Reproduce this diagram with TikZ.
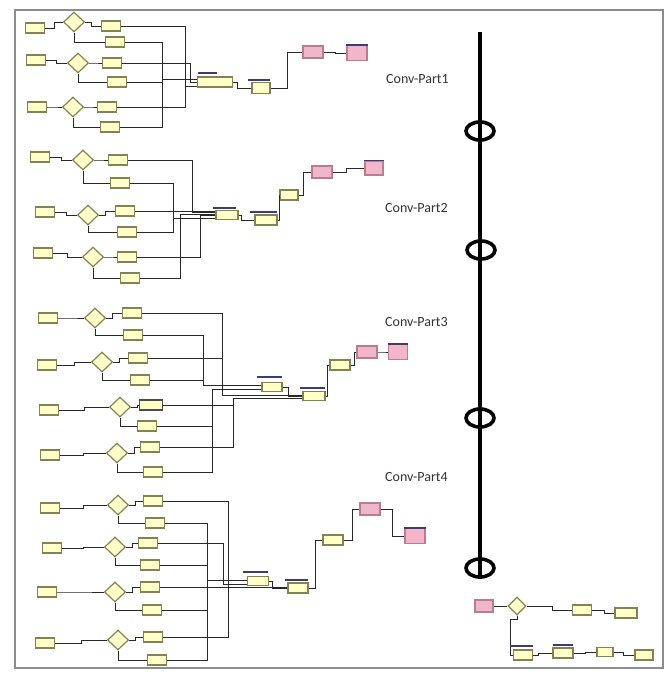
\documentclass[tikz,border=0pt]{standalone}
\usepackage{fontspec}
\setmainfont{Carlito}
\usetikzlibrary{shapes.geometric,calc}
\definecolor{yfill}{RGB}{255,255,200}
\definecolor{ybord}{RGB}{130,130,85}
\definecolor{pfill}{RGB}{242,182,202}
\definecolor{pbord}{RGB}{185,125,145}
\definecolor{wcol}{RGB}{40,40,40}
\definecolor{tcol}{RGB}{60,60,115}
\definecolor{fcol}{RGB}{140,140,140}
\tikzset{
 yb/.style={rectangle, draw=ybord, fill=yfill, line width=1.3pt, minimum width=19pt, minimum height=10pt, inner sep=0pt},
 pb/.style={rectangle, draw=pbord, fill=pfill, line width=1.2pt, minimum width=20pt, minimum height=12pt, inner sep=0pt},
 dm/.style={diamond, draw=ybord, fill=yfill, line width=1.2pt, minimum width=21pt, minimum height=20pt, inner sep=0pt},
 wire/.style={draw=wcol, line width=1pt},
 tbar/.style={draw=tcol, line width=1.4pt},
 lbl/.style={font=\fontsize{14}{16}\selectfont, text=black!80, inner sep=0pt, anchor=west},
 ring/.style={ellipse, draw=black, line width=3.6pt, minimum width=28pt, minimum height=18pt, inner sep=0pt},
}
\begin{document}
\begin{tikzpicture}[x=1pt,y=-1pt]
\useasboundingbox (0,0) rectangle (669,675);
\fill[white] (0,0) rectangle (669,675);
\draw[fcol, line width=1.4pt] (15,10) rectangle (663,668);

% ---------------- Section 1
\node[yb] (i11) at (35,28) {};
\node[dm] (d11) at (74,22) {};
\node[yb] (o11a) at (111,26) {};
\node[yb] (o11b) at (115,42) {};
\node[yb] (i12) at (36,60) {};
\node[dm] (d12) at (78,63) {};
\node[yb] (o12a) at (112,63) {};
\node[yb] (o12b) at (117,82) {};
\node[yb] (i13) at (37,107) {};
\node[dm] (d13) at (73,107) {};
\node[yb] (o13a) at (107,107) {};
\node[yb] (o13b) at (110,127) {};
\node[yb, minimum width=35pt] (m1) at (215,82) {};
\node[yb, minimum width=18pt, minimum height=11pt] (b12) at (261,88) {};
\node[pb] (p11) at (313,52) {};
\node[pb, minimum height=15pt] (p12) at (357,53) {};
\node[lbl] (c1) at (386,79) {Conv-Part1};

% ---------------- Section 2
\node[yb] (i21) at (40,157) {};
\node[dm] (d21) at (83,160) {};
\node[yb] (o21a) at (118,160) {};
\node[yb] (o21b) at (120,183) {};
\node[yb] (i22) at (45,212) {};
\node[dm] (d22) at (88,215) {};
\node[yb] (o22a) at (125,211) {};
\node[yb] (o22b) at (127,232) {};
\node[yb] (i23) at (43,253) {};
\node[dm] (d23) at (93,257) {};
\node[yb] (o23a) at (127,257) {};
\node[yb] (o23b) at (130,278) {};
\node[yb, minimum width=22pt, minimum height=9pt] (m2) at (227,215) {};
\node[yb, minimum width=22pt] (b22) at (266,220) {};
\node[yb, minimum width=18pt] (b23) at (289,195) {};
\node[pb] (p21) at (322,172) {};
\node[pb, minimum width=18pt, minimum height=14pt] (p22) at (374,168) {};
\node[lbl] (c2) at (385,208) {Conv-Part2};

% ---------------- Section 3
\node[yb] (i31) at (48,318) {};
\node[dm] (d31) at (95,318) {};
\node[yb] (o31a) at (132,313) {};
\node[yb] (o31b) at (133,335) {};
\node[yb] (i32) at (47,365) {};
\node[dm] (d32) at (102,362) {};
\node[yb] (o32a) at (138,358) {};
\node[yb] (o32b) at (140,380) {};
\node[yb] (i33) at (49,410) {};
\node[dm] (d33) at (120,407) {};
\node[yb, minimum width=23pt, draw=black!70] (o33a) at (151,405) {};
\node[yb] (o33b) at (147,426) {};
\node[yb] (i34) at (50,455) {};
\node[dm] (d34) at (117,453) {};
\node[yb] (o34a) at (150,447) {};
\node[yb] (o34b) at (153,472) {};
\node[yb, minimum width=20pt, minimum height=9pt] (m3) at (272,387) {};
\node[yb, minimum width=22pt, minimum height=9pt] (b32) at (314,396) {};
\node[yb, minimum width=20pt] (b33) at (340,365) {};
\node[pb] (p31) at (367,352) {};
\node[pb, minimum width=19pt, minimum height=15pt] (p32) at (398,352) {};
\node[lbl] (c3) at (385,322) {Conv-Part3};

% ---------------- Section 4
\node[yb] (i41) at (50,508) {};
\node[dm] (d41) at (118,505) {};
\node[yb] (o41a) at (153,501) {};
\node[yb] (o41b) at (155,523) {};
\node[yb] (i42) at (52,548) {};
\node[dm] (d42) at (115,547) {};
\node[yb] (o42a) at (148,543) {};
\node[yb] (o42b) at (150,565) {};
\node[yb] (i43) at (47,592) {};
\node[dm] (d43) at (115,592) {};
\node[yb] (o43a) at (150,587) {};
\node[yb] (o43b) at (152,610) {};
\node[yb] (i44) at (45,643) {};
\node[dm] (d44) at (118,640) {};
\node[yb] (o44a) at (153,637) {};
\node[yb] (o44b) at (157,660) {};
\node[yb, minimum width=21pt, minimum height=9pt] (m4) at (258,581) {};
\node[yb, minimum width=20pt] (b42) at (298,588) {};
\node[yb, minimum width=20pt] (b43) at (333,540) {};
\node[pb] (p41) at (370,509) {};
\node[pb, minimum height=15pt] (p42) at (415,536) {};
\node[lbl] (c4) at (385,477) {Conv-Part4};

% ---------------- Bottom-right cluster
\node[pb, minimum width=18pt] (p5) at (484,606) {};
\node[dm, minimum width=18pt, minimum height=18pt] (d5) at (517,606) {};
\node[yb] (o5a) at (582,610) {};
\node[yb, minimum width=22pt] (o5b) at (626,613) {};
\node[yb] (o5c) at (523,655) {};
\node[yb, minimum width=20pt] (o5d) at (563,653) {};
\node[yb, minimum width=16pt, minimum height=9pt] (o5e) at (605,652) {};
\node[yb, minimum width=18pt] (o5f) at (644,655) {};

% ---------------- generic row wiring
\foreach \r in {11,12,13,21,22,23,31,32,33,34,41,42,43,44} {
  \draw[wire] (i\r.east) -| ($(i\r.east)!.5!(d\r.west)$) |- (d\r.west);
  \draw[wire] (d\r.east) -- ++(6,0) |- (o\r a.west);
  \draw[wire] (d\r.south) |- (o\r b.west);
}

% ---------------- Section 1 buses
\draw[wire] (o11a.east) -- (185,26) -- (185,107) -- (o13a.east);
\draw[wire] (o11b.east) -- (162,42) -- (162,127) -- (o13b.east);
\draw[wire] (o12a.east) -- (190,63) -- (190,82) -- (m1.west);
\draw[wire] (o12b.east) -- (162,82);
\draw[wire] (162,79) -- (m1.west |- 0,79);
\draw[wire] (185,86) -- (m1.west |- 0,86);
\draw[wire] (m1.east) -- ++(4,0) |- (b12.west);
\draw[wire] (b12.east) -- ++(17,0) |- (p11.west);
\draw[wire] (p11.east) -- ++(12,0) |- (p12.west);
\draw[tbar] (198,73) -- (217,73);
\draw[tbar] (248,80) -- (270,80);
\draw[tbar] (p12.north west) -- (p12.north east);

% ---------------- Section 2 buses
\draw[wire] (o21a.east) -- (192,160) -- (192,212) -- (m2.west |- 0,212);
\draw[wire] (o21b.east) -- (173,183) -- (173,232) -- (o22b.east);
\draw[wire] (173,218) -- (m2.west |- 0,218);
\draw[wire] (o22a.east) -- (m2.west |- o22a.east);
\draw[wire] (o23a.east) -- (200,257) -- (200,215) -- (m2.west);
\draw[wire] (o23b.east) -- (180,278) -- (180,214) -- (m2.west |- 0,214);
\draw[wire] (m2.east) -- ++(3,0) |- (b22.west);
\draw[wire] (b22.east) -- ++(2,0) |- (b23.west);
\draw[wire] (b23.east) -- ++(5,0) |- (p21.west);
\draw[wire] (p21.east) -- ++(14,0) |- (p22.west);
\draw[tbar] (213,208) -- (236,208);
\draw[tbar] (250,212) -- (277,212);
\draw[tbar] (p22.north west) -- (p22.north east);

% ---------------- Section 3 buses
\draw[wire] (o31a.east) -- (222,313) -- (222,395) -- (b32.west |- 0,395);
\draw[wire] (o32a.east) -- (222,358);
\draw[wire] (o31b.east) -- (203,335) -- (203,385) -- (m3.west |- 0,385);
\draw[wire] (o32b.east) -- (203,380);
\draw[wire] (o33b.east) -- (212,426) -- (212,389) -- (m3.west |- 0,389);
\draw[wire] (o34b.east) -- (212,472) -- (212,426);
\draw[wire] (o33a.east) -- (233,405);
\draw[wire] (o34a.east) -- (233,447) -- (233,398) -- (b32.west |- 0,398);
\draw[wire] (m3.east) -- ++(6,0) |- (b32.west);
\draw[wire] (b32.east) -- ++(2,0) |- (b33.west);
\draw[wire] (b33.east) -- ++(4,0) |- (p31.west);
\draw[wire] (p31.east) -- ++(6,0) |- (p32.west);
\draw[tbar] (257,377) -- (282,377);
\draw[tbar] (300,388) -- (325,388);
\draw[tbar] (p32.north west) -- (p32.north east);

% ---------------- Section 4 buses
\draw[wire] (o41a.east) -- (228,501) -- (228,637) -- (o44a.east);
\draw[wire] (o41b.east) -- (207,523) -- (207,660) -- (o44b.east);
\draw[wire] (o42a.east) -- (223,543) -- (223,584);
\draw[wire] (o42b.east) -- (207,565);
\draw[wire] (o43b.east) -- (207,610);
\draw[wire] (o43a.east) -- (b42.west |- o43a.east);
\draw[wire] (207,580) -- (m4.west |- 0,580);
\draw[wire] (223,584) -- (m4.west |- 0,584);
\draw[wire] (m4.east) -- ++(3,0) |- (b42.west);
\draw[wire] (b42.east) -- ++(7,0) |- (b43.west);
\draw[wire] (b43.east) -- ++(9,0) |- (p41.west);
\draw[wire] (p41.east) -- ++(12,0) |- (p42.west);
\draw[tbar] (243,572) -- (268,572);
\draw[tbar] (285,580) -- (308,580);
\draw[tbar] (p42.north west) -- (p42.north east);

% ---------------- Bottom-right wiring
\draw[wire] (p5.east) -- (d5.west);
\draw[wire] (d5.east) -- ++(26,0) |- (o5a.west);
\draw[wire] (o5a.east) -- ++(12,0) |- (o5b.west);
\draw[wire] (d5.south) -- (517,619) -- (510,619) |- (o5c.west);
\draw[wire] (o5c.east) -- ++(5,0) |- (o5d.west);
\draw[wire] (o5d.east) -- ++(12,0) |- (o5e.west);
\draw[wire] (o5e.east) -- ++(10,0) |- (o5f.west);
\draw[tbar] (510,646) -- (533,646);
\draw[tbar] (553,645) -- (573,645);

% ---------------- thick timeline with rings
\coordinate (vtop) at (480,32);
\node[ring] (e1) at (480,131) {};
\node[ring] (e2) at (481,250) {};
\node[ring] (e3) at (480,418) {};
\node[ring] (e4) at (480,568) {};
\draw[line width=4pt] (vtop) -- (e4.south);
\end{tikzpicture}
\end{document}
